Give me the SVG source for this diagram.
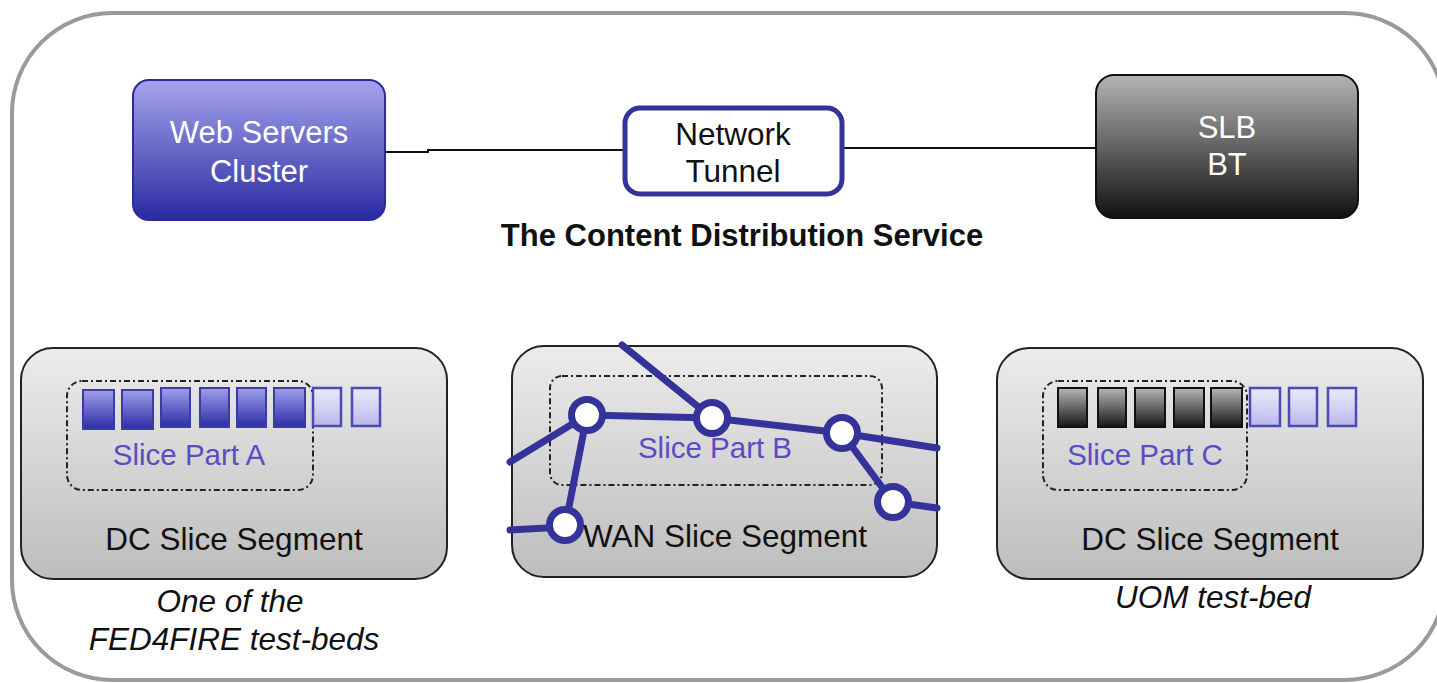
<svg xmlns="http://www.w3.org/2000/svg" width="1437" height="683" viewBox="0 0 1437 683">
<defs>
<linearGradient id="gBlue" x1="0" y1="0" x2="0" y2="1"><stop offset="0" stop-color="#a4a4ec"/><stop offset="1" stop-color="#2a2aa2"/></linearGradient>
<linearGradient id="gBlack" x1="0" y1="0" x2="0" y2="1"><stop offset="0" stop-color="#b4b4b4"/><stop offset="1" stop-color="#111"/></linearGradient>
<linearGradient id="gGrey" x1="0" y1="0" x2="0" y2="1"><stop offset="0" stop-color="#ececec"/><stop offset="1" stop-color="#bdbdbd"/></linearGradient>
<linearGradient id="gLight" x1="0" y1="0" x2="0" y2="1"><stop offset="0" stop-color="#ececfa"/><stop offset="1" stop-color="#b8b8ec"/></linearGradient>
<linearGradient id="gSqB" x1="0" y1="0" x2="0" y2="1"><stop offset="0" stop-color="#a0a0ea"/><stop offset="1" stop-color="#2c2ca6"/></linearGradient>
<linearGradient id="gSqK" x1="0" y1="0" x2="0" y2="1"><stop offset="0" stop-color="#b8b8b8"/><stop offset="1" stop-color="#151515"/></linearGradient>
</defs>
<style>
text{font-family:"Liberation Sans",Arial,sans-serif;text-anchor:middle}
.white{fill:#fff;font-size:31px}
.blk{fill:#111;font-size:31.5px}
.title{fill:#111;font-size:31px;font-weight:bold}
.part{fill:#5a4cc4;font-size:29.5px}
.ital{fill:#111;font-size:31.5px;font-style:italic}
.seg{fill:url(#gGrey);stroke:#222;stroke-width:2}
.inner{fill:none;stroke:#222;stroke-width:2;stroke-dasharray:6 3 2 3}
.sqB{fill:url(#gSqB);stroke:#3a3aa8;stroke-width:2}
.sqL{fill:url(#gLight);stroke:#4a4ab8;stroke-width:2.5}
.sqK{fill:url(#gSqK);stroke:#111;stroke-width:2}
.wan{stroke:#333399;stroke-width:7;fill:none;stroke-linecap:round}
.nd{fill:#fff;stroke:#333399;stroke-width:7}
.conn{fill:none;stroke:#111;stroke-width:2}
</style>
<g id="frame">
<path d="M12,113 A100,100 0 0 1 112,13 L1345,13 A100,100 0 0 1 1445,113 L1445,580 A100,100 0 0 1 1345,680 L112,680 A100,100 0 0 1 12,580 Z" fill="none" stroke="#9a9a9a" stroke-width="4"/>
</g>
<g id="connectors">
<path class="conn" d="M385,152 L428,152 L428,150 L625,150"/>
<path class="conn" d="M843,148 L1096,148"/>
</g>
<g id="web-servers">
<rect x="133" y="80" width="252" height="140" rx="16" fill="url(#gBlue)" stroke="#2a2a9a" stroke-width="2"/>
<text class="white" x="259" y="143">Web Servers</text>
<text class="white" x="259" y="182">Cluster</text>
</g>
<g id="network-tunnel">
<rect x="625" y="108" width="217" height="86" rx="15" fill="#fff" stroke="#333399" stroke-width="5"/>
<text class="blk" x="733" y="145">Network</text>
<text class="blk" x="733" y="182">Tunnel</text>
</g>
<g id="slb-bt">
<rect x="1096" y="75" width="262" height="143" rx="18" fill="url(#gBlack)" stroke="#111" stroke-width="2"/>
<text class="white" x="1227" y="138">SLB</text>
<text class="white" x="1227" y="175">BT</text>
</g>
<text class="title" x="742" y="246">The Content Distribution Service</text>
<g id="dc-left">
<rect class="seg" x="21" y="348" width="426" height="231" rx="32"/>
<rect class="inner" x="67" y="381" width="246" height="109" rx="15"/>
<rect class="sqB" x="83" y="390" width="31" height="39"/>
<rect class="sqB" x="122" y="390" width="31" height="39"/>
<rect class="sqB" x="161" y="388" width="29" height="39"/>
<rect class="sqB" x="200" y="388" width="29" height="39"/>
<rect class="sqB" x="237" y="388" width="29" height="39"/>
<rect class="sqB" x="274" y="388" width="31" height="39"/>
<rect class="sqL" x="313" y="388" width="28" height="38"/>
<rect class="sqL" x="352" y="388" width="28" height="38"/>
<text class="part" x="189" y="465">Slice Part A</text>
<text class="blk" x="234" y="550">DC Slice Segment</text>
<text class="ital" x="230" y="612">One of the</text>
<text class="ital" x="234" y="650">FED4FIRE test-beds</text>
</g>
<g id="wan">
<rect class="seg" x="512" y="346" width="425" height="231" rx="32"/>
<rect class="inner" x="550" y="376" width="332" height="109" rx="12"/>
<path class="wan" d="M510,462 L587,415 L712,418 L842,433 L937,448"/>
<path class="wan" d="M622,345 L712,418"/>
<path class="wan" d="M842,433 L893,502 L937,508"/>
<path class="wan" d="M587,415 L565,527 L510,530"/>
<circle class="nd" cx="587" cy="415" r="15.5"/>
<circle class="nd" cx="712" cy="418" r="15.5"/>
<circle class="nd" cx="842" cy="433" r="15.5"/>
<circle class="nd" cx="893" cy="502" r="15.5"/>
<circle class="nd" cx="565" cy="525" r="15.5"/>
<text class="part" x="715" y="458">Slice Part B</text>
<text class="blk" x="725" y="547">WAN Slice Segment</text>
</g>
<g id="dc-right">
<rect class="seg" x="997" y="348" width="426" height="231" rx="32"/>
<rect class="inner" x="1043" y="381" width="204" height="109" rx="15"/>
<rect class="sqK" x="1058" y="388" width="29" height="39"/>
<rect class="sqK" x="1098" y="388" width="28" height="39"/>
<rect class="sqK" x="1135" y="388" width="30" height="39"/>
<rect class="sqK" x="1174" y="388" width="30" height="39"/>
<rect class="sqK" x="1211" y="388" width="31" height="39"/>
<rect class="sqL" x="1250" y="388" width="30" height="38"/>
<rect class="sqL" x="1289" y="388" width="28" height="38"/>
<rect class="sqL" x="1328" y="388" width="28" height="38"/>
<text class="part" x="1145" y="465">Slice Part C</text>
<text class="blk" x="1210" y="550">DC Slice Segment</text>
<text class="ital" x="1213" y="608">UOM test-bed</text>
</g>
</svg>
